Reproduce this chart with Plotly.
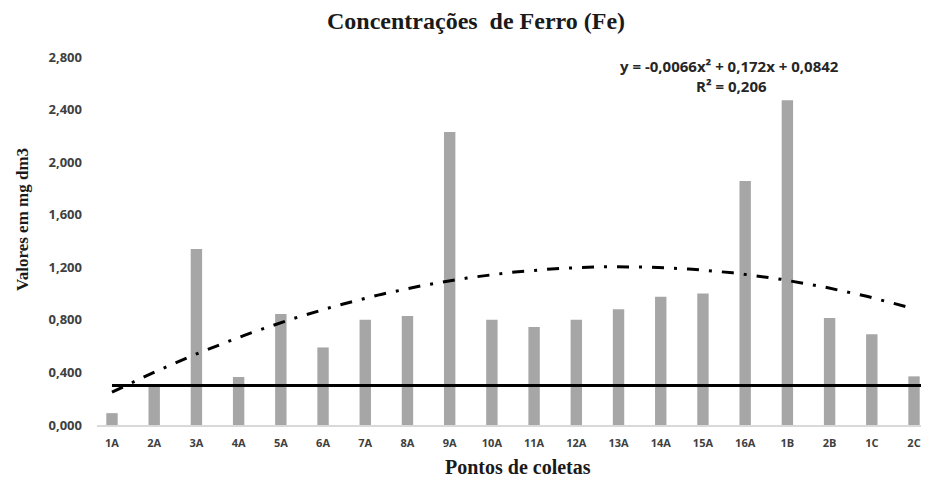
import plotly.graph_objects as go
import numpy as np

categories = ["1A","2A","3A","4A","5A","6A","7A","8A","9A","10A","11A","12A","13A","14A","15A","16A","1B","2B","1C","2C"]
values = [0.09, 0.29, 1.34, 0.365, 0.845, 0.59, 0.80, 0.83, 2.23, 0.80, 0.745, 0.80, 0.88, 0.975, 1.0, 1.857, 2.47, 0.815, 0.69, 0.37]
limit_value = 0.3
trend_coef = [-0.0066, 0.172, 0.0842]
yticks = [0, 0.4, 0.8, 1.2, 1.6, 2.0, 2.4, 2.8]
ytick_labels = ["0,000", "0,400", "0,800", "1,200", "1,600", "2,000", "2,400", "2,800"]

xs = np.arange(1, len(categories) + 1)
xt = np.linspace(1, len(categories), 200)
trend = np.polyval(trend_coef, xt)

OFF = 8  # default page body margin
W, H = 929 - OFF, 477 - OFF
L, R, T, B = 97 - OFF, 0, 57 - OFF, 477 - 425
pw, ph = W - L - R, H - T - B

def px(x):
    return (x - OFF - L) / pw

def py(y):
    return (H - B - (y - OFF)) / ph

fig = go.Figure()
fig.add_trace(go.Bar(x=xs, y=values, width=0.27, marker_color="#a6a6a6",
                     marker_line_width=0, showlegend=False))
fig.add_trace(go.Scatter(x=xt, y=trend, mode="lines",
                         line=dict(color="black", width=3, dash="12px,10px,3px,10px"),
                         showlegend=False))
fig.add_trace(go.Scatter(x=[1, len(categories) + 0.2], y=[limit_value, limit_value], mode="lines",
                         line=dict(color="black", width=3), showlegend=False))

fig.update_layout(
    width=W, height=H,
    margin=dict(l=L, r=R, t=T, b=B, autoexpand=False),
    plot_bgcolor="white", paper_bgcolor="white",
    xaxis=dict(range=[0.645, 20.355], tickmode="array", tickvals=list(xs), ticktext=categories,
               showgrid=False, zeroline=False, showline=True, linecolor="#d9d9d9", linewidth=1.5,
               ticks="", ticklabelstandoff=7, automargin=False,
               tickfont=dict(family="Open Sans", size=11, color="#404040", weight="bold")),
    yaxis=dict(range=[0, 2.8], tickmode="array", tickvals=yticks, ticktext=ytick_labels,
               showgrid=False, zeroline=False, showline=False, ticks="",
               ticklabelstandoff=14, automargin=False,
               tickfont=dict(family="Open Sans", size=13, color="#404040", weight="bold")),
    annotations=[
        dict(text="<b>Concentrações  de Ferro (Fe)</b>", x=px(476), y=py(21),
             font=dict(family="Liberation Serif", size=24, color="#1a1a1a")),
        dict(text="<b>Pontos de coletas</b>", x=px(518), y=py(467),
             font=dict(family="Liberation Serif", size=20, color="#1a1a1a")),
        dict(text="<b>Valores em mg dm3</b>", x=px(22), y=py(220), textangle=-90,
             font=dict(family="Liberation Serif", size=17, color="#1a1a1a")),
        dict(text="<b>y = -0,0066x² + 0,172x + 0,0842</b>", x=px(729), y=py(66),
             font=dict(family="Open Sans", size=15, color="#262626")),
        dict(text="<b>R² = 0,206</b>", x=px(731), y=py(86),
             font=dict(family="Open Sans", size=15, color="#262626")),
    ],
)
for a in fig.layout.annotations:
    a.xref = "paper"; a.yref = "paper"; a.showarrow = False
    a.xanchor = "center"; a.yanchor = "middle"

fig.write_html("out.html")
